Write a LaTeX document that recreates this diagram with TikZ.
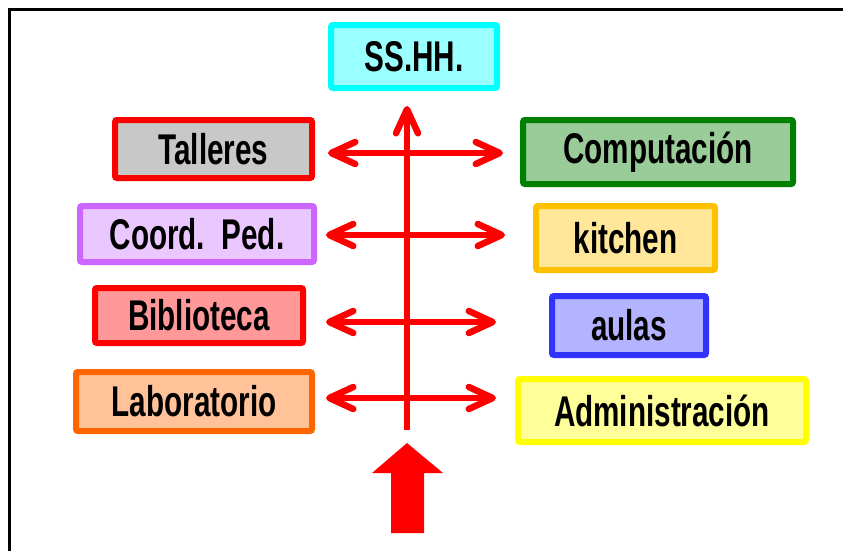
\documentclass[tikz,border=0pt]{standalone}
\usepackage{fontspec}
\setmainfont{Liberation Sans}[FakeStretch=0.69]
\usetikzlibrary{arrows.meta,calc}
\definecolor{arrred}{HTML}{FF0000}
\begin{document}
\begin{tikzpicture}[x=1pt,y=-1pt,
  box/.style={draw, line width=6pt, rounded corners=2pt, inner sep=0pt, align=center,
    font=\fontsize{43}{43}\selectfont\bfseries, text=black},
  harrow/.style={draw=arrred, line width=6.5pt, {Straight Barb[round,length=24pt,width=22pt]}-{Straight Barb[round,length=24pt,width=22pt]}},
  varrow/.style={draw=arrred, line width=6.5pt, -{Straight Barb[round,length=24pt,width=22pt]}},
  frame/.style={draw=black, line width=3pt}]
\useasboundingbox (0,0) rectangle (843,550);
\fill[white] (0,0) rectangle (843,550);
\draw[frame] (843,9.5) -- (9.5,9.5) -- (9.5,551);

\node[box, draw={rgb,255:red,0;green,255;blue,255}, fill={rgb,255:red,153;green,255;blue,255},
  minimum width=166pt, minimum height=63pt] (ssh) at (414,56.5) {SS.HH.};
\node[box, draw=arrred, fill={rgb,255:red,200;green,200;blue,200},
  minimum width=197pt, minimum height=58pt] (tal) at (213.5,149) {Talleres};
\node[box, draw={rgb,255:red,204;green,102;blue,255}, fill={rgb,255:red,235;green,199;blue,255},
  minimum width=234pt, minimum height=56pt] (coo) at (197,234) {Coord.\ \ Ped.};
\node[box, draw=arrred, fill={rgb,255:red,255;green,153;blue,153},
  minimum width=208pt, minimum height=55pt] (bib) at (199,315.5) {Biblioteca};
\node[box, draw={rgb,255:red,255;green,102;blue,0}, fill={rgb,255:red,255;green,194;blue,153},
  minimum width=236pt, minimum height=59pt] (lab) at (194,401.5) {Laboratorio};
\node[box, draw={rgb,255:red,0;green,128;blue,0}, fill={rgb,255:red,153;green,204;blue,153},
  minimum width=270pt, minimum height=64pt] (com) at (658,152) {Computación};
\node[box, draw={rgb,255:red,255;green,192;blue,0}, fill={rgb,255:red,255;green,230;blue,153},
  minimum width=179pt, minimum height=64pt] (kit) at (625.5,238) {kitchen};
\node[box, draw={rgb,255:red,51;green,51;blue,255}, fill={rgb,255:red,179;green,179;blue,255},
  minimum width=154pt, minimum height=59pt] (aul) at (629,325.5) {aulas};
\node[box, draw={rgb,255:red,255;green,255;blue,0}, fill={rgb,255:red,255;green,255;blue,153},
  minimum width=288pt, minimum height=63pt] (adm) at (662,410.5) {Administración};

% horizontal double arrows
\draw[harrow] ($(tal.east)+(13,4)$) -- ($(tal.east -| com.west)+(-17,4)$);
\draw[harrow] ($(coo.east)+(9,1)$) -- ($(coo.east -| kit.west)+(-28,1)$);
\draw[harrow] ($(bib.east)+(20,6.5)$) -- ($(bib.east -| aul.west)+(-53,6.5)$);
\draw[harrow] ($(lab.east)+(11,-3.5)$) -- ($(lab.east -| adm.west)+(-19,-3.5)$);

% vertical arrow
\coordinate (vb) at (407,430);
\draw[varrow, line cap=butt] (vb) -- ($(vb |- ssh.south)+(0,15)$);

% big block arrow
\coordinate (bt) at (407,443);
\fill[arrred] (bt) -- ++(36,30) -- ++(-19,0) -- ++(0,60) -- ++(-33,0) -- ++(0,-60) -- ++(-19,0) -- cycle;
\end{tikzpicture}
\end{document}
